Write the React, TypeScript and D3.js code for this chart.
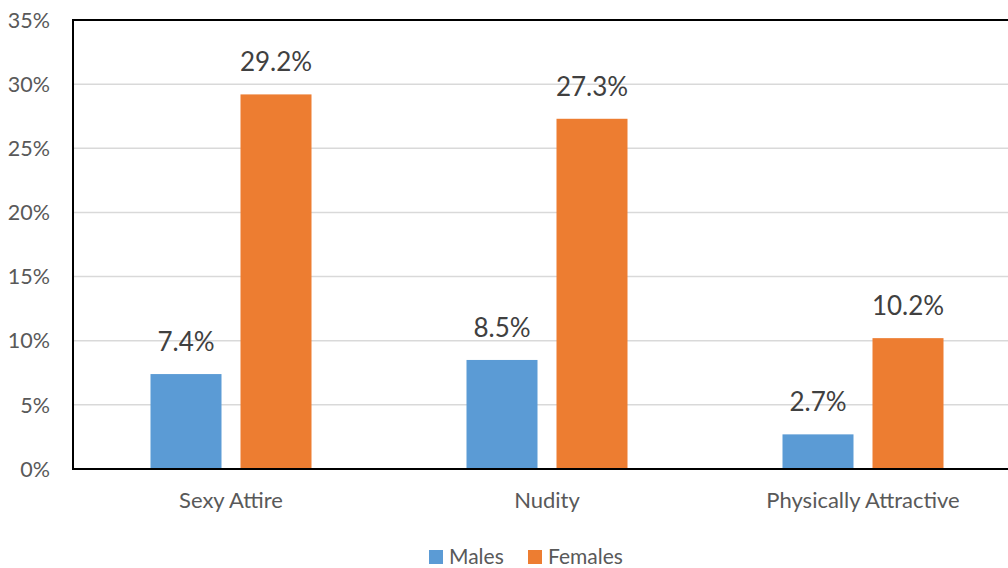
import React from "react";
import * as d3 from "d3";

const categories = ["Sexy Attire", "Nudity", "Physically Attractive"];
const seriesNames = ["Males", "Females"];
const males = [7.4, 8.5, 2.7];
const females = [29.2, 27.3, 10.2];
const yTicks = [0, 5, 10, 15, 20, 25, 30, 35];

const W = 1008;
const H = 568;
const left = 73;
const right = 1021;
const top = 20;
const bottom = 469;
const colors: Record<string, string> = { Males: "#5B9BD5", Females: "#ED7D31" };
const FONT = "Lato, 'Open Sans', sans-serif";

export default function App() {
  const y = d3.scaleLinear().domain([0, 35]).range([bottom, top]);
  const x0 = d3.scaleBand<string>().domain(categories).range([left, right]);
  const x1 = d3
    .scaleBand<string>()
    .domain(seriesNames)
    .range([77.5, 238.5])
    .paddingInner(0.2111);
  const values: Record<string, number[]> = { Males: males, Females: females };

  return (
    <svg
      width={W}
      height={H}
      style={{ position: "absolute", left: 0, top: 0, background: "#fff" }}
      fontFamily={FONT}
    >
      {/* gridlines */}
      {yTicks
        .filter((t) => t > 0 && t < 35)
        .map((t) => (
          <line
            key={"g" + t}
            x1={left}
            x2={W}
            y1={y(t)}
            y2={y(t)}
            stroke="#d9d9d9"
            strokeWidth={1.5}
          />
        ))}
      {/* y tick labels */}
      {yTicks.map((t) => (
        <text
          key={"t" + t}
          x={50}
          y={y(t)}
          dy="0.36em"
          textAnchor="end"
          fontSize={21.5}
          fill="#595959"
        >
          {t + "%"}
        </text>
      ))}
      {/* bars */}
      {categories.map((c, i) =>
        seriesNames.map((s) => {
          const v = values[s][i];
          const bx = (x0(c) ?? 0) + (x1(s) ?? 0);
          return (
            <g key={c + s}>
              <rect
                x={bx}
                y={y(v)}
                width={x1.bandwidth()}
                height={bottom - y(v)}
                fill={colors[s]}
              />
              <text
                x={bx + x1.bandwidth() / 2}
                y={y(v) - 23}
                textAnchor="middle"
                fontSize={26}
                fill="#404040"
              >
                {v.toFixed(1) + "%"}
              </text>
            </g>
          );
        })
      )}
      {/* plot frame */}
      <path
        d={`M${right},${top}H${left}V${bottom}H${right}`}
        fill="none"
        stroke="#000"
        strokeWidth={2}
      />
      {/* category labels */}
      {categories.map((c) => (
        <text
          key={"c" + c}
          x={(x0(c) ?? 0) + x0.bandwidth() / 2}
          y={508}
          textAnchor="middle"
          fontSize={22}
          fill="#595959"
        >
          {c}
        </text>
      ))}
      {/* legend */}
      {seriesNames.map((s, i) => {
        const lx = [429, 528][i];
        return (
          <g key={"l" + s}>
            <rect x={lx} y={550} width={14} height={14} fill={colors[s]} />
            <text x={lx + 20} y={564} fontSize={21} fill="#595959">
              {s}
            </text>
          </g>
        );
      })}
    </svg>
  );
}
